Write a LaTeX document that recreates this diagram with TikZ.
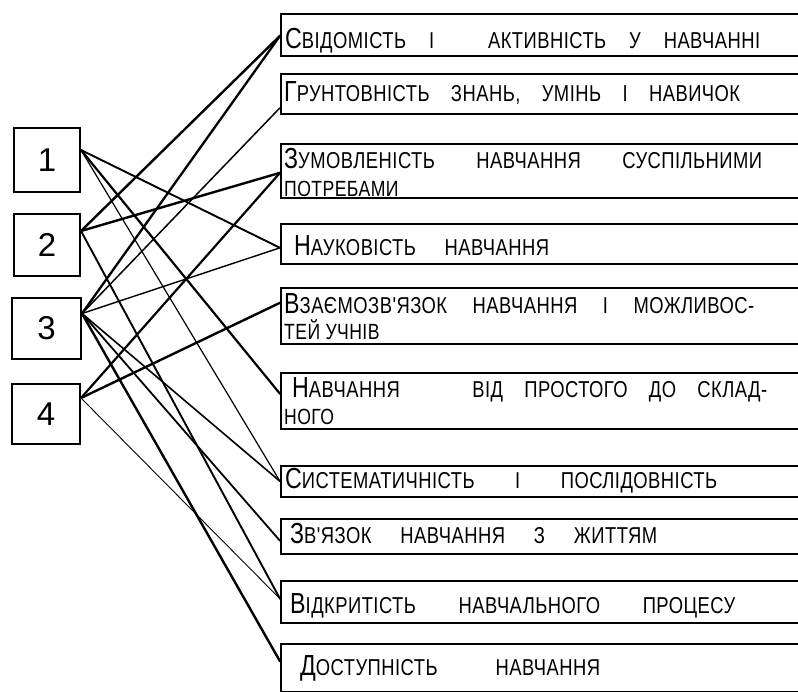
\documentclass[tikz,border=0pt]{standalone}
\usepackage{fontspec}
\setmainfont{Liberation Sans}
\newfontfamily\hand[FakeStretch=0.8, LetterSpace=2]{Liberation Sans}
% hand-lettered look: a larger initial, the rest in capitals
\newcommand\Ini[1]{{\fontsize{29}{29}\selectfont #1}}
\newcommand\Sc[1]{{\fontsize{23}{23}\selectfont\MakeUppercase{#1}}}
\newcommand\Sm[1]{{\fontsize{22}{22}\selectfont\MakeUppercase{#1}}}
\newcommand\Fit[2]{\makebox[#1][s]{#2}}
\begin{document}
\begin{tikzpicture}[x=1pt,y=-1pt,
  lbox/.style={draw, line width=2pt, anchor=north west, inner sep=0pt,
    minimum width=66pt, font=\fontsize{33}{33}\selectfont},
  rbox/.style={draw, line width=1.6pt, anchor=north west, inner sep=0pt,
    minimum width=530pt},
  txt/.style={anchor=base west, inner sep=0pt, font=\hand},
  link/.style={line cap=round}]
\useasboundingbox (0,0) rectangle (798,691);
\clip (0,0) rectangle (798,691);

% numbered groups on the left
\node[lbox, minimum height=64pt] (l1) at (13,127) {1};
\node[lbox, minimum height=62pt] (l2) at (13,213) {2};
\node[lbox, minimum height=61pt, minimum width=69pt] (l3) at (11,297) {3};
\node[lbox, minimum height=60pt, minimum width=68pt] (l4) at (11,383) {4};

% principles on the right
\node[rbox, minimum height=42pt] (r1)  at (280,13)  {};
\node[rbox, minimum height=40pt] (r2)  at (280,73)  {};
\node[rbox, minimum height=54pt] (r3)  at (280,143) {};
\node[rbox, minimum height=40pt] (r4)  at (280,223) {};
\node[rbox, minimum height=56pt] (r5)  at (280,287) {};
\node[rbox, minimum height=56pt] (r6)  at (280,372) {};
\node[rbox, minimum height=31pt] (r7)  at (280,465) {};
\node[rbox, minimum height=35pt] (r8)  at (280,518) {};
\node[rbox, minimum height=42pt] (r9)  at (280,580) {};
\node[rbox, minimum height=48pt] (r10) at (280,643) {};

\node[txt] (t1) at (285,48)
  {\Fit{475pt}{\Ini{С}\Sc{відомість і \hspace{8pt} активність у навчанні}}};
\node[txt] (t2) at (284,101)
  {\Fit{456pt}{\Ini{Г}\Sc{рунтовність знань, умінь і навичок}}};
\node[txt] (t3a) at (284,168)
  {\Fit{478pt}{\Ini{З}\Sc{умовленість навчання суспільними}}};
\node[txt] (t3b) at (284,196) {\Sm{потребами}};
\node[txt] (t4) at (294,255)
  {\Fit{255pt}{\Ini{Н}\Sc{ауковість навчання}}};
\node[txt] (t5a) at (284,313)
  {\Fit{470pt}{\Ini{В}\Sc{заємозв'язок навчання і можливос-}}};
\node[txt] (t5b) at (284,339) {\Sm{тей учнів}};
\node[txt] (t6a) at (292,397)
  {\Fit{475pt}{\Ini{Н}\Sc{авчання \hspace{30pt} від простого до склад-}}};
\node[txt] (t6b) at (284,424) {\Sm{ного}};
\node[txt] (t7) at (285,488)
  {\Fit{432pt}{\Ini{С}\Sc{истематичність і послідовність}}};
\node[txt] (t8) at (290,543)
  {\Fit{367pt}{\Ini{З}\Sc{в'язок навчання з життям}}};
\node[txt] (t9) at (290,613)
  {\Fit{445pt}{\Ini{В}\Sc{ідкритість навчального процесу}}};
\node[txt] (t10) at (300,675)
  {\Fit{300pt}{\Ini{Д}\Sc{оступність навчання}}};

% group -> principle links: from / shift / to / shift / width
\foreach \a/\da/\b/\db/\w in {
    1/10/4/-4/1.9, 1/10/6/7/2.2, 1/10/7/0/1.2,
    2/14/1/-1/2.4, 2/14/3/-2/2.4, 2/14/9/3/1.9,
    3/15/1/-1/2.3, 3/15/2/-14/1.5, 3/15/4/-4/1.4,
    3/15/7/0/1.6, 3/15/8/-4.5/1.8, 3/15/10/6.5/2.4,
    4/16/3/-2/2.2, 4/16/5/13/2.4, 4/16/9/3/0.9}
  \draw[link, line width=\w pt]
    ([yshift=\da pt]l\a.east) -- ([yshift=\db pt]r\b.west);
\end{tikzpicture}
\end{document}
